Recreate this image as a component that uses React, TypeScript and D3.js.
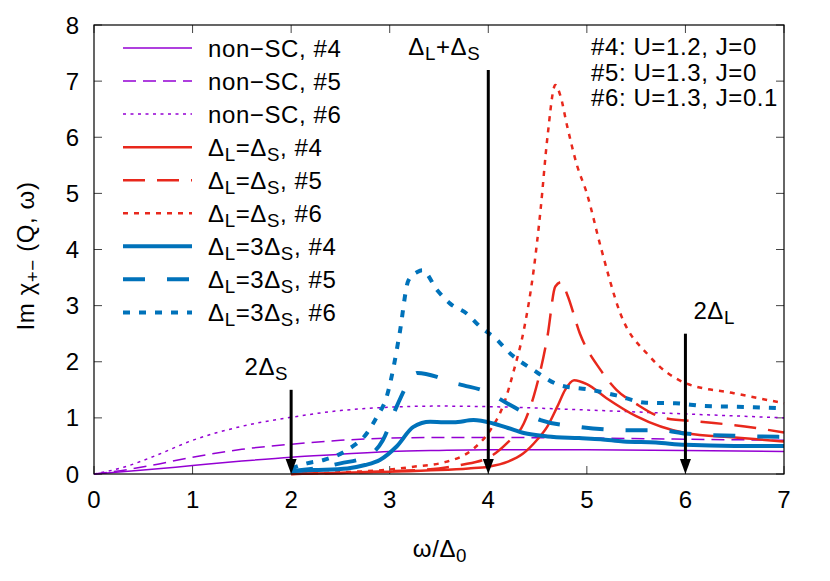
import React from "react";
import * as d3 from "d3";

// ---- data ----
const xTicks = [0, 1, 2, 3, 4, 5, 6, 7];
const yTicks = [0, 1, 2, 3, 4, 5, 6, 7, 8];

const nonSC4X = [0, 0.5, 1, 1.5, 2, 2.5, 3, 3.5, 4, 5, 6, 7];
const nonSC4Y = [0, 0.07, 0.15, 0.23, 0.3, 0.35, 0.4, 0.42, 0.43, 0.43, 0.42, 0.4];

const nonSC5X = [0, 0.34, 0.6, 1, 1.5, 2, 2.5, 3, 3.5, 4, 5, 6, 7];
const nonSC5Y = [0, 0.08, 0.16, 0.3, 0.44, 0.53, 0.6, 0.64, 0.65, 0.65, 0.64, 0.62, 0.6];

const nonSC6X = [0, 0.3, 0.6, 1, 1.5, 2, 2.5, 3, 3.5, 4, 5, 6, 7];
const nonSC6Y = [0, 0.12, 0.31, 0.6, 0.85, 1.01, 1.13, 1.19, 1.21, 1.2, 1.14, 1.07, 1.0];

const eq4X = [2, 2.5, 3, 3.5, 3.8, 4.0, 4.2, 4.35, 4.5, 4.6, 4.7, 4.78, 4.87, 5.0, 5.2, 5.5, 6.0, 6.5, 7.0];
const eq4Y = [0, 0.02, 0.04, 0.07, 0.1, 0.13, 0.22, 0.36, 0.62, 0.85, 1.2, 1.5, 1.67, 1.6, 1.35, 1.03, 0.73, 0.65, 0.58];

const eq5X = [2, 2.5, 3, 3.5, 3.72, 4.02, 4.19, 4.36, 4.46, 4.53, 4.6, 4.68, 4.74, 4.8, 4.93, 5.14, 5.3, 5.5, 5.78, 6.15, 6.5, 7];
const eq5Y = [0, 0.02, 0.05, 0.1, 0.16, 0.31, 0.55, 0.9, 1.38, 1.85, 2.45, 3.34, 3.42, 3.2, 2.5, 1.85, 1.5, 1.25, 1.0, 0.93, 0.87, 0.74];

const eq6X = [2, 2.5, 3, 3.24, 3.58, 3.85, 4.02, 4.16, 4.26, 4.36, 4.46, 4.53, 4.6, 4.68, 4.73, 4.8, 4.9, 5.0, 5.14, 5.34, 5.64, 6.0, 6.49, 7.0];
const eq6Y = [0, 0.03, 0.08, 0.13, 0.22, 0.45, 0.78, 1.26, 1.85, 2.56, 3.63, 4.7, 6.0, 6.93, 6.75, 6.2, 5.5, 5.0, 4.05, 2.86, 2.09, 1.62, 1.44, 1.26];

const tri4X = [2, 2.23, 2.57, 2.75, 2.9, 3.07, 3.24, 3.41, 3.55, 3.65, 3.85, 4.05, 4.2, 4.36, 4.6, 4.92, 5.14, 5.37, 5.7, 6.0, 6.5, 7];
const tri4Y = [0.05, 0.07, 0.1, 0.16, 0.25, 0.49, 0.84, 0.93, 0.92, 0.92, 0.96, 0.9, 0.82, 0.73, 0.67, 0.64, 0.62, 0.58, 0.56, 0.52, 0.5, 0.5];

const tri5X = [2, 2.25, 2.5, 2.77, 2.93, 3.07, 3.18, 3.28, 3.48, 3.61, 3.75, 3.99, 4.19, 4.53, 4.92, 5.41, 5.75, 6.0, 6.5, 7];
const tri5Y = [0.05, 0.1, 0.19, 0.31, 0.6, 1.2, 1.6, 1.8, 1.73, 1.64, 1.58, 1.46, 1.26, 0.96, 0.84, 0.78, 0.78, 0.72, 0.68, 0.66];

const tri6X = [2, 2.16, 2.33, 2.57, 2.77, 2.87, 2.97, 3.04, 3.1, 3.19, 3.28, 3.33, 3.48, 3.61, 3.78, 3.92, 4.09, 4.19, 4.46, 4.73, 5.04, 5.3, 5.6, 5.9, 6.2, 6.5, 7];
const tri6Y = [0.1, 0.19, 0.25, 0.43, 0.73, 1.02, 1.38, 1.91, 2.5, 3.45, 3.6, 3.63, 3.28, 3.04, 2.86, 2.62, 2.39, 2.2, 1.85, 1.58, 1.5, 1.4, 1.27, 1.26, 1.21, 1.2, 1.17];

const paramLines = ["#4: U=1.2, J=0", "#5: U=1.3, J=0", "#6: U=1.3, J=0.1"];

const arrowX = [2, 4, 6];
const arrowTop = [1.5, 7.2, 2.5];

// ---- styles ----
const PURPLE = "#9400D3";
const RED = "#E8281C";
const BLUE = "#0072BA";
const FONT = "'Liberation Sans', Arial, Helvetica, sans-serif";
const FS = 24;
const SUB = FS * 0.78;
const LS = 0.6;

type Series = { xs: number[]; ys: number[]; color: string; width: number; dash: string; label: string; labelKind: number; tag: string };

const series: Series[] = [
  { xs: nonSC4X, ys: nonSC4Y, color: PURPLE, width: 1.5, dash: "", label: "non−SC, #4", labelKind: 0, tag: "#4" },
  { xs: nonSC5X, ys: nonSC5Y, color: PURPLE, width: 1.5, dash: "13,7", label: "non−SC, #5", labelKind: 0, tag: "#5" },
  { xs: nonSC6X, ys: nonSC6Y, color: PURPLE, width: 1.5, dash: "3,4.5", label: "non−SC, #6", labelKind: 0, tag: "#6" },
  { xs: eq4X, ys: eq4Y, color: RED, width: 2.5, dash: "", label: "", labelKind: 1, tag: "#4" },
  { xs: eq5X, ys: eq5Y, color: RED, width: 2.5, dash: "22,12", label: "", labelKind: 1, tag: "#5" },
  { xs: eq6X, ys: eq6Y, color: RED, width: 2.5, dash: "5,6", label: "", labelKind: 1, tag: "#6" },
  { xs: tri4X, ys: tri4Y, color: BLUE, width: 4, dash: "", label: "", labelKind: 2, tag: "#4" },
  { xs: tri5X, ys: tri5Y, color: BLUE, width: 4, dash: "22,22", label: "", labelKind: 2, tag: "#5" },
  { xs: tri6X, ys: tri6Y, color: BLUE, width: 4, dash: "7,9", label: "", labelKind: 2, tag: "#6" },
];

const W = 830, H = 581;
const L = 94, R = 784, T = 25, B = 474;

function LegendText({ s }: { s: Series }) {
  if (s.labelKind === 0) return <>{s.label}</>;
  return (
    <>
      <tspan>Δ</tspan>
      <tspan fontSize={SUB} dy={5}>L</tspan>
      <tspan dy={-5}>{s.labelKind === 1 ? "=Δ" : "=3Δ"}</tspan>
      <tspan fontSize={SUB} dy={5}>S</tspan>
      <tspan dy={-5}>{", " + s.tag}</tspan>
    </>
  );
}

export default function App() {
  const x = d3.scaleLinear().domain([0, 7]).range([L, R]);
  const y = d3.scaleLinear().domain([0, 8]).range([B, T]);
  const line = d3
    .line<[number, number]>()
    .x((d) => x(d[0]))
    .y((d) => y(d[1]))
    .curve(d3.curveMonotoneX);

  const legX0 = 123, legX1 = 192, legTX = 208, legY0 = 48, legDY = 33.05;

  return (
    <svg width={W} height={H} style={{ position: "absolute", left: 0, top: 0, background: "#fff" }} fontFamily={FONT}>
      <rect x={0} y={0} width={W} height={H} fill="#fff" />
      {/* ticks */}
      {xTicks.map((t) => (
        <g key={"xt" + t}>
          <line x1={x(t)} x2={x(t)} y1={B} y2={B - 8} stroke="#444" strokeWidth={1} />
          <line x1={x(t)} x2={x(t)} y1={T} y2={T + 8} stroke="#444" strokeWidth={1} />
          <text x={x(t)} y={B + 34} fontSize={FS} textAnchor="middle" fill="#000">{t}</text>
        </g>
      ))}
      {yTicks.map((t) => (
        <g key={"yt" + t}>
          <line x1={L} x2={L + 8} y1={y(t)} y2={y(t)} stroke="#444" strokeWidth={1} />
          <line x1={R} x2={R - 8} y1={y(t)} y2={y(t)} stroke="#444" strokeWidth={1} />
          <text x={L - 15} y={y(t) + 8.5} fontSize={FS} textAnchor="end" fill="#000">{t}</text>
        </g>
      ))}

      {/* curves */}
      {series.map((s, i) => (
        <path
          key={"c" + i}
          d={line(s.xs.map((v, j) => [v, s.ys[j]] as [number, number])) || ""}
          fill="none"
          stroke={s.color}
          strokeWidth={s.width}
          strokeDasharray={s.dash || undefined}
        />
      ))}

      {/* arrows */}
      {arrowX.map((ax, i) => {
        const px = x(ax);
        const tip = y(0);
        return (
          <g key={"a" + i}>
            <line x1={px} x2={px} y1={y(arrowTop[i])} y2={tip - 10} stroke="#000" strokeWidth={3} />
            <polygon points={`${px},${tip} ${px - 5.5},${tip - 15} ${px + 5.5},${tip - 15}`} fill="#000" />
          </g>
        );
      })}
      <text x={x(arrowX[0]) - 3} y={y(arrowTop[0]) - 15} fontSize={FS} textAnchor="end" letterSpacing={LS}>
        2Δ<tspan fontSize={SUB} dy={5}>S</tspan>
      </text>
      <text x={x(arrowX[1]) - 8} y={y(arrowTop[1]) - 15} fontSize={FS} textAnchor="end" letterSpacing={LS}>
        Δ<tspan fontSize={SUB} dy={5}>L</tspan><tspan dy={-5}>+Δ</tspan><tspan fontSize={SUB} dy={5}>S</tspan>
      </text>
      <text x={x(arrowX[2]) + 8} y={y(arrowTop[2]) - 15} fontSize={FS} textAnchor="start" letterSpacing={LS}>
        2Δ<tspan fontSize={SUB} dy={5}>L</tspan>
      </text>

      {/* legend */}
      {series.map((s, i) => {
        const ly = legY0 + i * legDY;
        return (
          <g key={"l" + i}>
            <line x1={legX0} x2={legX1} y1={ly} y2={ly} stroke={s.color} strokeWidth={s.width} strokeDasharray={s.dash || undefined} />
            <text x={legTX} y={ly + 8.5} fontSize={FS} fill="#000" letterSpacing={LS}>
              <LegendText s={s} />
            </text>
          </g>
        );
      })}

      {/* parameter text */}
      {paramLines.map((p, i) => (
        <text key={"p" + i} x={591} y={55.4 + i * 25.3} fontSize={FS} letterSpacing={LS}>{p}</text>
      ))}

      {/* border */}
      <rect x={L} y={T} width={R - L} height={B - T} fill="none" stroke="#000" strokeWidth={1.2} />

      {/* axis labels */}
      <text x={440} y={557} fontSize={FS} textAnchor="middle" letterSpacing={LS}>
        ω/Δ<tspan fontSize={SUB} dy={5}>0</tspan>
      </text>
      <text transform={`translate(34,256) rotate(-90)`} fontSize={FS} textAnchor="middle" letterSpacing={LS}>
        Im χ<tspan fontSize={SUB} dy={5}>+−</tspan><tspan dy={-5}> (Q, ω)</tspan>
      </text>
    </svg>
  );
}
